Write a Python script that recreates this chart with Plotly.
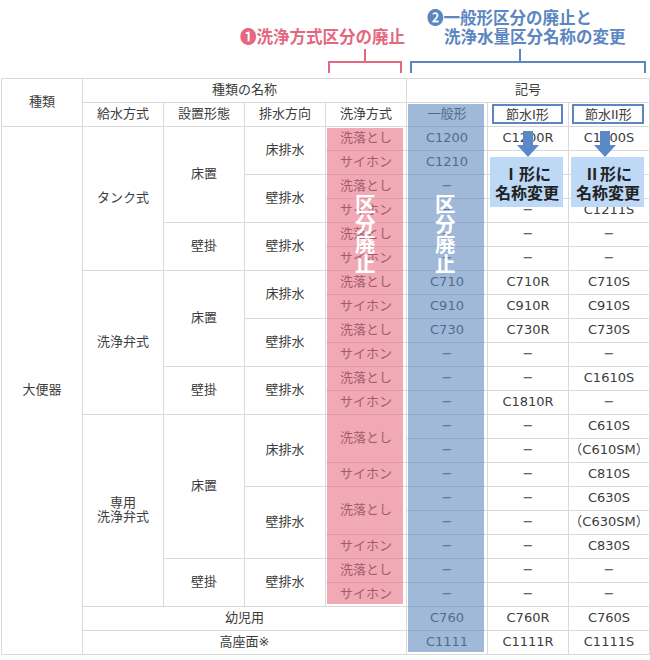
import plotly.graph_objects as go

# ---------------- data ----------------
header_top = ["種類", "種類の名称", "記号"]
header_cols = ["給水方式", "設置形態", "排水方向", "洗浄方式", "一般形", "節水I形", "節水II形"]
category = "大便器"
supply = [("タンク式", 6), ("洗浄弁式", 6), ("専用<br>洗浄弁式", 8)]
install = [("床置", 4), ("壁掛", 2), ("床置", 4), ("壁掛", 2), ("床置", 6), ("壁掛", 2)]
drain = [("床排水", 2), ("壁排水", 2), ("壁排水", 2), ("床排水", 2), ("壁排水", 2),
         ("壁排水", 2), ("床排水", 3), ("壁排水", 3), ("壁排水", 2)]
flush = [("洗落とし", 1), ("サイホン", 1)] * 6 + [("洗落とし", 2), ("サイホン", 1), ("洗落とし", 2),
                                                ("サイホン", 1), ("洗落とし", 1), ("サイホン", 1)]
extra_rows = ["幼児用", "高座面※"]
D = "−"
general = ["C1200", "C1210", D, D, D, D, "C710", "C910", "C730", D, D, D,
           D, D, D, D, D, D, D, D, "C760", "C1111"]
type1 = ["C1200R", "C1210R", D, D, D, D, "C710R", "C910R", "C730R", D, D, "C1810R",
         D, D, D, D, D, D, D, D, "C760R", "C1111R"]
type2 = ["C1200S", "C1210S", "C1201S", "C1211S", D, D, "C710S", "C910S", "C730S", D, "C1610S", D,
         "C610S", "（C610SM）", "C810S", "C630S", "（C630SM）", "C830S", D, D, "C760S", "C1111S"]
note1 = "❶洗浄方式区分の廃止"
note2 = ["❷一般形区分の廃止と", "洗浄水量区分名称の変更"]
callouts = [["Ⅰ形に", "名称変更"], ["Ⅱ形に", "名称変更"]]
abolish = "区分廃止"

# ---------------- geometry ----------------
X = [1.5, 82.5, 163.5, 244.5, 325.5, 406.5, 487.5, 568.5, 649.5]
HY = [78.5, 102.5, 126.5]
NR = len(general)
Y = [126.5 + 24 * i for i in range(NR + 1)]

FONT = "DejaVu Sans, Noto Sans CJK JP, sans-serif"
TXT = "#3d3d3d"
GRID = "#d9d9d9"
PINK = "#e4687f"
BLUE = "#5b86bf"

cells = []  # (x0, x1, y0, y1, text)
cells.append((X[0], X[1], HY[0], HY[2], header_top[0]))
cells.append((X[1], X[5], HY[0], HY[1], header_top[1]))
cells.append((X[5], X[8], HY[0], HY[1], header_top[2]))
for i, t in enumerate(header_cols):
    cells.append((X[i + 1], X[i + 2], HY[1], HY[2], t))
cells.append((X[0], X[1], Y[0], Y[NR], category))


def add_spans(spans, col):
    r = 0
    for t, n in spans:
        cells.append((X[col], X[col + 1], Y[r], Y[r + n], t))
        r += n
    return r


r_end = add_spans(supply, 1)
add_spans(install, 2)
add_spans(drain, 3)
add_spans(flush, 4)
for k, t in enumerate(extra_rows):
    cells.append((X[1], X[5], Y[r_end + k], Y[r_end + k + 1], t))
for col, vals in ((5, general), (6, type1), (7, type2)):
    for r, t in enumerate(vals):
        cells.append((X[col], X[col + 1], Y[r], Y[r + 1], t))

# grid lines
gx, gy = [], []
for x0, x1, y0, y1, _ in cells:
    gx += [x0, x1, x1, x0, x0, None]
    gy += [y0, y0, y1, y1, y0, None]

fig = go.Figure()
fig.add_trace(go.Scatter(x=gx, y=gy, mode="lines", line=dict(color=GRID, width=1),
                         hoverinfo="skip", showlegend=False))

# cell text
tx, ty, tt = [], [], []
for x0, x1, y0, y1, t in cells:
    if t in header_cols[5:]:
        continue
    lines = t.split("<br>")
    cy = (y0 + y1) / 2
    n = len(lines)
    for j, ln in enumerate(lines):
        tx.append((x0 + x1) / 2)
        ty.append(cy + (j - (n - 1) / 2) * 14)
        tt.append(ln)
fig.add_trace(go.Scatter(x=tx, y=ty, text=tt, mode="text",
                         textfont=dict(family=FONT, size=13, color=TXT),
                         hoverinfo="skip", showlegend=False))

shapes = []
# translucent highlights (above text)
shapes.append(dict(type="rect", xref="x", yref="y", x0=327, x1=403, y0=128, y1=604,
                   fillcolor="rgb(230,112,132)", opacity=0.6, line=dict(width=0), layer="above"))
shapes.append(dict(type="rect", xref="x", yref="y", x0=408, x1=484, y0=104, y1=652,
                   fillcolor="rgb(97,139,190)", opacity=0.6, line=dict(width=0), layer="above"))
# header boxes for 節水I形 / 節水II形
for (x0, x1) in ((493, 562), (573, 643)):
    shapes.append(dict(type="rect", xref="x", yref="y", x0=x0, x1=x1, y0=105, y1=123,
                       line=dict(color=BLUE, width=2), fillcolor="rgba(0,0,0,0)", layer="above"))
# arrows and callout boxes
for cx, (bx0, bx1) in ((528, (490, 563)), (605, (571, 644))):
    shapes.append(dict(type="rect", xref="x", yref="y", x0=cx - 5, x1=cx + 5, y0=131, y1=146,
                       fillcolor="#5a8ac6", line=dict(width=0), layer="above"))
    shapes.append(dict(type="path", xref="x", yref="y",
                       path=f"M {cx-11},145 L {cx+11},145 L {cx},157 Z",
                       fillcolor="#5a8ac6", line=dict(width=0), layer="above"))
    shapes.append(dict(type="rect", xref="x", yref="y", x0=bx0, x1=bx1, y0=157, y1=207,
                       fillcolor="#bdd9f5", line=dict(width=0), layer="above"))
# brackets
shapes.append(dict(type="path", xref="x", yref="y",
                   path="M 329,73 L 329,62 L 401,62 L 401,73 M 365,62 L 365,49",
                   line=dict(color=PINK, width=2), layer="above"))
shapes.append(dict(type="path", xref="x", yref="y",
                   path="M 411,73 L 411,62 L 645,62 L 645,73 M 520,62 L 520,49",
                   line=dict(color=BLUE, width=2), layer="above"))

ann = []
# header box texts
for cx, t in ((527.5, header_cols[5]), (608, header_cols[6])):
    ann.append(dict(x=cx, y=114.5, text=t, showarrow=False, xanchor="center", yanchor="middle",
                    font=dict(family=FONT, size=13, color=TXT)))
# callout texts
for cx, lines in zip((526.5, 607.5), callouts):
    for j, ln in enumerate(lines):
        ann.append(dict(x=cx, y=173 + 19 * j, text=f"<b>{ln}</b>", showarrow=False,
                        xanchor="center", yanchor="middle",
                        font=dict(family="Noto Sans CJK JP", size=16, color="#222222")))
# abolished text (vertical)
for cx in (365, 445):
    for j, ch in enumerate(abolish):
        ann.append(dict(x=cx, y=203 + 20 * j, text=f"<b>{ch}</b>", showarrow=False,
                        xanchor="center", yanchor="middle",
                        font=dict(family="Noto Sans CJK JP", size=20.5, color="white")))
# top notes
ann.append(dict(x=407, y=36, text=f"<b>{note1}</b>", showarrow=False, xanchor="right", yanchor="middle",
                font=dict(family="Noto Sans CJK JP", size=16.5, color=PINK)))
ann.append(dict(x=425, y=17, text=f"<b>{note2[0]}</b>", showarrow=False, xanchor="left", yanchor="middle",
                font=dict(family="Noto Sans CJK JP", size=16.5, color=BLUE)))
ann.append(dict(x=442, y=36, text=f"<b>{note2[1]}</b>", showarrow=False, xanchor="left", yanchor="middle",
                font=dict(family="Noto Sans CJK JP", size=16.5, color=BLUE)))

fig.update_layout(
    width=650, height=660, margin=dict(l=0, r=0, t=0, b=0),
    paper_bgcolor="white", plot_bgcolor="white",
    xaxis=dict(range=[0, 650], visible=False, fixedrange=True),
    yaxis=dict(range=[660, 0], visible=False, fixedrange=True),
    shapes=shapes, annotations=ann, showlegend=False,
)
fig.write_html("out.html", config={"displayModeBar": False},
               post_script="document.body.style.margin='0';document.body.style.padding='0';"
                           "document.documentElement.style.overflow='hidden';")
